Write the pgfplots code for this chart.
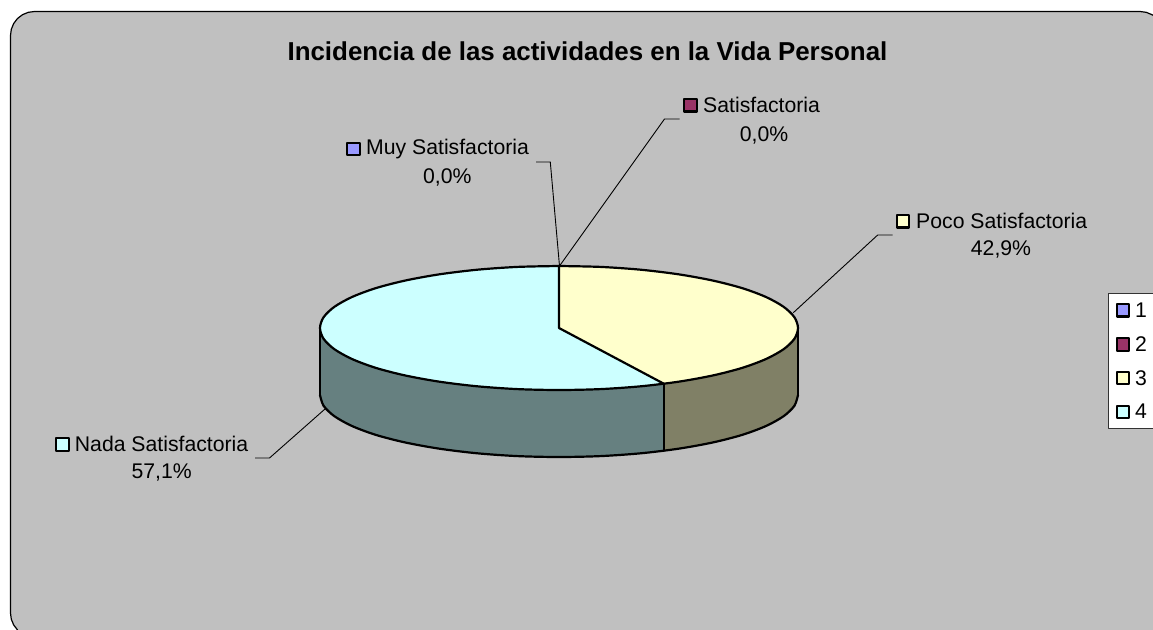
\documentclass[border=0pt]{standalone}
\usepackage{pgfplots}
\pgfplotsset{compat=1.18}
\usepackage{fontspec}
\setmainfont{Liberation Sans}
\definecolor{bgc}{HTML}{C0C0C0}
\definecolor{cuno}{HTML}{9999FF}
\definecolor{cdos}{HTML}{993366}
\definecolor{ctres}{HTML}{FFFFCC}
\definecolor{ccuatro}{HTML}{CCFFFF}
\definecolor{wtres}{HTML}{808066}
\definecolor{wcuatro}{HTML}{668080}
\newcommand{\lab}{\fontsize{21.3}{24}\selectfont}
\begin{document}
\begin{tikzpicture}
\path[use as bounding box] (0,0) rectangle (1153bp,630bp);
\begin{axis}[at={(0,0)},anchor=south west,scale only axis,width=1153bp,height=630bp,
  xmin=0,xmax=1153,ymin=0,ymax=630,y dir=reverse,hide axis,
  every axis plot post/.append style={line join=round}]
% frame
\addplot[fill=bgc,draw=none] coordinates {(10.5,35.5)(11.3,29.3)(13.7,23.5)(17.5,18.5)(22.5,14.7)(28.3,12.3)(34.5,11.5)(1140,11.5)(1146.2,12.3)(1152,14.7)(1153,15.3)(1153,630)(17.6,630)(13.7,625)(11.3,619.2)(10.5,613)};
\addplot[black,line width=1.2bp,mark=none] coordinates {(17.6,630)(13.7,625)(11.3,619.2)(10.5,613)(10.5,35.5)(11.3,29.3)(13.7,23.5)(17.5,18.5)(22.5,14.7)(28.3,12.3)(34.5,11.5)(1140,11.5)(1146.2,12.3)(1152,14.7)(1153,15.3)};
% walls
\addplot[fill=wtres,draw=none] coordinates {(798,328)(794.4,338.8)(783.6,349.2)(766,359)(742.1,367.9)(712.6,375.5)(678.5,381.7)(663.8,383.7)(663.8,450.7)(678.5,448.7)(712.6,442.5)(742.1,434.9)(766,426)(783.6,416.2)(794.4,405.8)(798,395)};
\addplot[fill=wcuatro,draw=none] coordinates {(663.8,383.7)(640.7,386.3)(600.5,389.1)(559,390)(517.5,389.1)(477.3,386.3)(439.5,381.7)(405.4,375.5)(375.9,367.9)(352,359)(334.4,349.2)(323.6,338.8)(320,328)(320,395)(323.6,405.8)(334.4,416.2)(352,426)(375.9,434.9)(405.4,442.5)(439.5,448.7)(477.3,453.3)(517.5,456.1)(559,457)(600.5,456.1)(640.7,453.3)(663.8,450.7)};
\addplot[black,line width=2.2bp,smooth,mark=none] coordinates {(798,395)(794.4,405.8)(783.6,416.2)(766,426)(742.1,434.9)(712.6,442.5)(678.5,448.7)(640.7,453.3)(600.5,456.1)(559,457)(517.5,456.1)(477.3,453.3)(439.5,448.7)(405.4,442.5)(375.9,434.9)(352,426)(334.4,416.2)(323.6,405.8)(320,395)};
\addplot[black,line width=2.2bp,mark=none] coordinates {(798,328)(798,395)};
\addplot[black,line width=2.2bp,mark=none] coordinates {(320,328)(320,395)};
\addplot[black,line width=2.2bp,mark=none] coordinates {(663.8,383.7)(663.8,450.7)};
% top
\addplot[fill=ctres,draw=none] coordinates {(559,328)(559,266)(600.5,266.9)(640.7,269.7)(678.5,274.3)(712.6,280.5)(742.1,288.1)(766,297)(783.6,306.8)(794.4,317.2)(798,328)(794.4,338.8)(783.6,349.2)(766,359)(742.1,367.9)(712.6,375.5)(678.5,381.7)(663.8,383.7)};
\addplot[fill=ccuatro,draw=none] coordinates {(559,328)(663.8,383.7)(640.7,386.3)(600.5,389.1)(559,390)(517.5,389.1)(477.3,386.3)(439.5,381.7)(405.4,375.5)(375.9,367.9)(352,359)(334.4,349.2)(323.6,338.8)(320,328)(323.6,317.2)(334.4,306.8)(352,297)(375.9,288.1)(405.4,280.5)(439.5,274.3)(477.3,269.7)(517.5,266.9)(559,266)};
\addplot[black,line width=2.2bp,mark=none] coordinates {(559,266)(559,328)(663.8,383.7)};
\addplot[black,line width=2.2bp,smooth,mark=none] coordinates {(559,266)(600.5,266.9)(640.7,269.7)(678.5,274.3)(712.6,280.5)(742.1,288.1)(766,297)(783.6,306.8)(794.4,317.2)(798,328)(794.4,338.8)(783.6,349.2)(766,359)(742.1,367.9)(712.6,375.5)(678.5,381.7)(640.7,386.3)(600.5,389.1)(559,390)(517.5,389.1)(477.3,386.3)(439.5,381.7)(405.4,375.5)(375.9,367.9)(352,359)(334.4,349.2)(323.6,338.8)(320,328)(323.6,317.2)(334.4,306.8)(352,297)(375.9,288.1)(405.4,280.5)(439.5,274.3)(477.3,269.7)(517.5,266.9)(559,266)};
% leaders
\addplot[black,line width=0.9bp,mark=none] coordinates {(536,162)(550.3,162)(559.5,266)};
\addplot[black,line width=0.9bp,mark=none] coordinates {(679.5,119)(664.5,119)(559.5,266)};
\addplot[black,line width=0.9bp,mark=none] coordinates {(892.7,235)(877.7,235)(793.3,312.7)};
\addplot[black,line width=0.9bp,mark=none] coordinates {(255,458)(269.5,458)(325,409)};
% legend box
\addplot[fill=white,draw=none] coordinates {(1153,293.5)(1108.5,293.5)(1108.5,428.5)(1153,428.5)};
\addplot[black!80,line width=0.9bp,mark=none] coordinates {(1153,293.5)(1108.5,293.5)(1108.5,428.5)(1153,428.5)};
% swatches
\pgfplotsset{swatch/.style={only marks,mark=square*,mark size=6.2bp,mark options={solid,fill=#1,draw=black,line width=2.2bp},line width=2.2bp}}
\addplot[swatch=cuno] coordinates {(353.5,148.8)(1123,310.2)};
\addplot[swatch=cdos] coordinates {(690.5,105.2)(1123,344.5)};
\addplot[swatch=ctres] coordinates {(903,221.2)(1123,378)};
\addplot[swatch=ccuatro] coordinates {(62.5,444.5)(1123,411.8)};
% text
\node[anchor=base,inner sep=0pt,font=\fontsize{26}{30}\selectfont\bfseries] at (axis cs:587.5,60) {Incidencia de las actividades en la Vida Personal};
\node[anchor=base west,inner sep=0pt,font=\lab] at (axis cs:366,154.3) {Muy Satisfactoria};
\node[anchor=base,inner sep=0pt,font=\lab] at (axis cs:447.3,183) {0,0\%};
\node[anchor=base west,inner sep=0pt,font=\lab] at (axis cs:703,112) {Satisfactoria};
\node[anchor=base,inner sep=0pt,font=\lab] at (axis cs:764,141) {0,0\%};
\node[anchor=base west,inner sep=0pt,font=\lab] at (axis cs:916,228.3) {Poco Satisfactoria};
\node[anchor=base,inner sep=0pt,font=\lab] at (axis cs:1001,255.5) {42,9\%};
\node[anchor=base west,inner sep=0pt,font=\lab] at (axis cs:74.7,451) {Nada Satisfactoria};
\node[anchor=base,inner sep=0pt,font=\lab] at (axis cs:161.7,478.5) {57,1\%};
\node[anchor=base west,inner sep=0pt,font=\lab] at (axis cs:1135,317.7) {1};
\node[anchor=base west,inner sep=0pt,font=\lab] at (axis cs:1135,351.7) {2};
\node[anchor=base west,inner sep=0pt,font=\lab] at (axis cs:1135,385) {3};
\node[anchor=base west,inner sep=0pt,font=\lab] at (axis cs:1135,418.5) {4};
\end{axis}
\end{tikzpicture}
\end{document}
